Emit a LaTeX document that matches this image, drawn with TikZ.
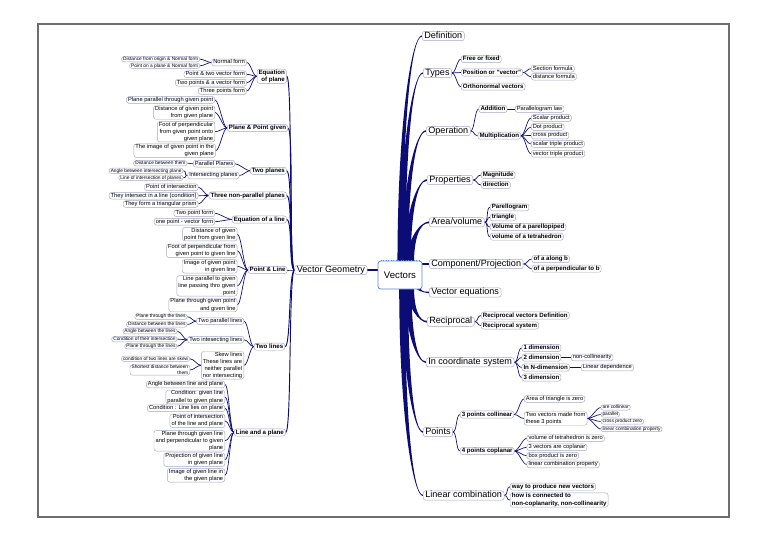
\documentclass[tikz,border=0pt]{standalone}
\usepackage{fontspec}
\setmainfont{Liberation Sans}
\usetikzlibrary{calc}
\definecolor{nv}{RGB}{12,12,118}
\definecolor{bcol}{RGB}{165,165,200}
\definecolor{rootb}{RGB}{90,140,210}
\definecolor{frm}{RGB}{110,110,110}
\pgfdeclarelayer{bg}
\pgfsetlayers{bg,main}
\newcommand\rcon[2]{\draw[cn] (#1.east) .. controls +(4,0) and +(-4,0) .. (#2.west);}
\newcommand\lcon[2]{\draw[cn] (#1.west) .. controls +(-4,0) and +(4,0) .. (#2.east);}
\newcommand\scon[1]{\draw[spn] (vg.west) .. controls +(-6,0) and +(6,0) .. (#1.east);}
\newcommand\taper[4]{\fill[nv] let \p1=(#1), \p2=(#2) in
  ({\x1-#3},\y1) .. controls ({\x1-#3},{\y1+0.6*(\y2-\y1)}) and ({0.5*(\x1+\x2)},\y2) .. (\x2,{\y2+#4})
  -- (\x2,{\y2-#4}) .. controls ({0.5*(\x1+\x2)},\y2) and ({\x1+#3},{\y1+0.6*(\y2-\y1)}) .. ({\x1+#3},\y1) -- cycle;}
\begin{document}
\begin{tikzpicture}[x=0.75pt,y=-0.75pt,
  bx/.style={draw=bcol, line width=0.35pt, rounded corners=1.8pt, fill=white, inner xsep=1.2pt, inner ysep=0.4pt},
  lone/.style={bx, font=\fontsize{6.8}{8}\selectfont, text height=4.9pt, text depth=1.5pt, inner xsep=1.6pt, inner ysep=0.3pt},
  ltwo/.style={bx, font=\fontsize{4.6}{5.6}\selectfont\bfseries, text height=3.4pt, text depth=1.1pt},
  lthree/.style={bx, font=\fontsize{4.3}{5.3}\selectfont, text height=3.2pt, text depth=1pt},
  lfour/.style={bx, font=\fontsize{3.6}{4.6}\selectfont, text height=2.7pt, text depth=0.8pt, inner ysep=0.2pt},
  ml/.style={text height=, text depth=},
  rt/.style={anchor=west, align=left},
  lt/.style={anchor=east, align=right},
  cn/.style={draw=nv, line width=0.5pt},
  spn/.style={draw=nv, line width=0.7pt}]
\useasboundingbox (0,0) rectangle (768,542);
\begin{pgfonlayer}{bg}
\fill[white] (0,0) rectangle (768,542);
\draw[frm, line width=1pt] (38,24) rectangle (729,517);
\end{pgfonlayer}

% root and level 1
\node[draw=rootb, line width=0.6pt, rounded corners=2pt, fill=white, minimum width=33pt, minimum height=21pt, font=\fontsize{7.2}{8}\selectfont] (root) at (400,275) {Vectors};
\draw[rootb, line width=1.1pt, dash pattern=on 0.6pt off 1.3pt] ($(root.north west)+(3,0)$) -- ($(root.north east)+(-3,0)$);
\node[lone, lt] (vg) at (367.3,270) {Vector Geometry};

\node[lone, rt] (def) at (422,36) {Definition};
\node[lone, rt] (types) at (423,73) {Types};
\node[lone, rt] (oper) at (426,131) {Operation};
\node[lone, rt] (props) at (427,180) {Properties};
\node[lone, rt] (area) at (429,222.3) {Area/volume};
\node[lone, rt] (comp) at (429,264) {Component/Projection};
\node[lone, rt] (veq) at (429,292.5) {Vector equations};
\node[lone, rt] (recip) at (427,321.7) {Reciprocal};
\node[lone, rt] (coord) at (426,362.3) {In coordinate system};
\node[lone, rt] (points) at (423,432) {Points};
\node[lone, rt] (lincomb) at (423,495.5) {Linear combination};

% right level 2
\node[ltwo, rt] (free) at (461,59.2) {Free or fixed};
\node[ltwo, rt] (posv) at (461,72.5) {Position or "vector"};
\node[ltwo, rt] (ortho) at (461,86.7) {Orthonormal vectors};
\node[ltwo, rt] (add) at (478.7,109) {Addition};
\node[ltwo, rt] (mult) at (477.7,135.7) {Multiplication};
\node[ltwo, rt] (mag) at (481,175) {Magnitude};
\node[ltwo, rt] (dir) at (481,185) {direction};
\node[ltwo, rt] (parl) at (490,207.3) {Parellogram};
\node[ltwo, rt] (tri) at (490,217.3) {triangle};
\node[ltwo, rt] (volp) at (490,227) {Volume of a parellopiped};
\node[ltwo, rt] (volt) at (490,236.7) {volume of a tetrahedron};
\node[ltwo, rt] (along) at (531.7,259) {of a along b};
\node[ltwo, rt] (perp) at (531.7,268.7) {of a perpendicular to b};
\node[ltwo, rt] (rvd) at (481,315.5) {Reciprocal vectors Definition};
\node[ltwo, rt] (rsys) at (481,325.5) {Reciprocal system};
\node[ltwo, rt] (d1) at (521.7,348) {1 dimension};
\node[ltwo, rt] (d2) at (521.7,357.5) {2 dimension};
\node[ltwo, rt] (dn) at (521.7,367.5) {In N-dimension};
\node[ltwo, rt] (d3) at (521.7,377.5) {3 dimension};
\node[ltwo, rt] (col3) at (460,414.5) {3 points collinear};
\node[ltwo, rt] (cop4) at (460,451) {4 points coplanar};
\node[ltwo, rt] (way) at (510,486.7) {way to produce new vectors};
\node[ltwo, rt, ml] (how) at (510,500) {how is connected to\\non-coplanarity, non-collinearity};

% right level 3
\node[lthree, rt] (sect) at (531,68.7) {Section formula};
\node[lthree, rt] (dist) at (531,76.7) {distance formula};
\node[lthree, rt] (plaw) at (515,109) {Parallelogram law};
\node[lthree, rt] (scal) at (531,118) {Scalar product};
\node[lthree, rt] (dot) at (531,127) {Dot product};
\node[lthree, rt] (cross) at (531,135.5) {cross product};
\node[lthree, rt] (stp) at (531,144) {scalar triple product};
\node[lthree, rt] (vtp) at (531,153.7) {vector triple product};
\node[lthree, rt] (ncol) at (571,357.5) {non-collinearity};
\node[lthree, rt] (ldep) at (581,367.5) {Linear dependence};
\node[lthree, rt] (atz) at (524,399) {Area of triangle is zero};
\node[lthree, rt, ml] (twov) at (524,418.5) {Two vectors made from\\these 3 points};
\node[lthree, rt] (vtz) at (526.7,438.3) {volume of tetrahedron is zero};
\node[lthree, rt] (vcop) at (526.7,447.3) {3 vectors are coplanar};
\node[lthree, rt] (bpz) at (526.7,455.7) {box product is zero};
\node[lthree, rt] (lcp) at (526.7,464.5) {linear combination property};

% right level 4
\node[lfour, rt] (acol) at (600.7,407.5) {are collinear};
\node[lfour, rt] (par) at (600.7,414.5) {parallel};
\node[lfour, rt] (cpz) at (600.7,421.5) {cross product zero};
\node[lfour, rt] (lcp2) at (600.7,429) {linear combination property};

% left level 2
\node[ltwo, lt, ml] (eqp) at (286.7,76.3) {Equation\\of plane};
\node[ltwo, lt] (ppg) at (288,128) {Plane \& Point given};
\node[ltwo, lt] (twop) at (286.7,170.8) {Two planes};
\node[ltwo, lt] (tnp) at (286.7,195.5) {Three non-parallel planes};
\node[ltwo, lt] (eql) at (286.7,219.5) {Equation of a line};
\node[ltwo, lt] (pl) at (287.3,270) {Point \& Line};
\node[ltwo, lt] (twol) at (285,346.7) {Two lines};
\node[ltwo, lt] (lap) at (285.7,432.5) {Line and a plane};

% left level 3
\node[lthree, lt] (nf) at (246.7,62.5) {Normal form};
\node[lthree, lt] (ptv) at (246.7,74.3) {Point \& two vector form};
\node[lthree, lt] (tpv) at (246.7,82.7) {Two points \& a vector form};
\node[lthree, lt] (tpf) at (246.7,91) {Three points form};
\node[lthree, lt] (ppt) at (215,100) {Plane parallel through given point};
\node[lthree, lt, ml] (dgp) at (215,112.5) {Distance of given point\\from given plane};
\node[lthree, lt, ml] (fop) at (215,131.7) {Foot of perpendicular\\from given point onto\\given plane};
\node[lthree, lt, ml] (igp) at (215.7,150.7) {The image of given point in the\\given plane};
\node[lthree, lt] (parp) at (235,163.7) {Parallel Planes};
\node[lthree, lt] (intp) at (239.3,175.5) {Intersecting planes};
\node[lthree, lt] (poi) at (198.3,187.3) {Point of intersection};
\node[lthree, lt] (til) at (198.3,195.7) {They intersect in a line (condition)};
\node[lthree, lt] (tfp) at (198.3,204) {They form a triangular prism};
\node[lthree, lt] (tpt) at (215,213.3) {Two point form};
\node[lthree, lt] (opv) at (215,221.7) {one point - vector form};
\node[lthree, lt, ml] (dgl) at (237.3,234.2) {Distance of given\\point from given line};
\node[lthree, lt, ml] (fpl) at (237.3,250.8) {Foot of perpendicular from\\given point to given line};
\node[lthree, lt, ml] (igl) at (237.3,266.3) {Image of given point\\in given line};
\node[lthree, lt, ml] (lpg) at (237.3,285.8) {Line parallel to given\\line passing thro given\\point};
\node[lthree, lt, ml] (ptgl) at (237.3,305) {Plane through given point\\and given line};
\node[lthree, lt] (tpl) at (244,321.2) {Two parallel lines};
\node[lthree, lt] (til2) at (244,339.7) {Two intesecting lines};
\node[lthree, lt, ml] (skew) at (244,365.3) {Skew lines\\These lines are\\neither parallel\\nor intersecting};
\node[lthree, lt] (abl) at (225,384.5) {Angle between line and plane};
\node[lthree, lt, ml] (cgl) at (225,397) {Condition: given line\\parallel to given plane};
\node[lthree, lt] (cll) at (225,408.3) {Condition : Line lies on plane};
\node[lthree, lt, ml] (pil) at (225,420.8) {Point of intersection\\of the line and plane};
\node[lthree, lt, ml] (ptl) at (225,440.8) {Plane through given line\\and perpendicular to given\\plane};
\node[lthree, lt, ml] (pjl) at (225,459.7) {Projection of given line\\in given plane};
\node[lthree, lt, ml] (igl2) at (225,475.3) {Image of given line in\\the given plane};

% left level 4
\node[lfour, lt] (dfo) at (200,59.2) {Distance from origin \& Normal form};
\node[lfour, lt] (pop) at (200,65.8) {Point on a plane \& Normal form};
\node[lfour, lt] (dbt) at (187.3,163.3) {Distance between them};
\node[lfour, lt] (abi) at (183.3,170.8) {Angle between intersecting plane};
\node[lfour, lt] (loi) at (183.3,177.8) {Line of intersection of planes};
\node[lfour, lt] (ptl1) at (187.3,316.7) {Plane through the lines};
\node[lfour, lt] (dbl) at (187.3,324.5) {Distance between the lines};
\node[lfour, lt] (abtl) at (177.3,331.2) {Angle between the lines};
\node[lfour, lt] (coi) at (177.3,339.2) {Condition of their intersection};
\node[lfour, lt] (ptl2) at (177.3,346.3) {Plane through the lines};
\node[lfour, lt] (ctl) at (190,358.8) {condition of two lines are skew};
\node[lfour, lt, ml] (sdb) at (190,370) {Shortest distance between\\them};

% anchor coordinates on the root
\coordinate (u1) at ($(root.north)+(0,3)$);
\coordinate (u2) at ($(root.north)+(2.5,3)$);
\coordinate (u3) at ($(root.north)+(5,3)$);
\coordinate (u4) at ($(root.north)+(7.5,3)$);
\coordinate (u5) at ($(root.north)+(10.5,3)$);
\coordinate (w1) at ($(root.south)+(10.5,-3)$);
\coordinate (w2) at ($(root.south)+(8,-3)$);
\coordinate (w3) at ($(root.south)+(5,-3)$);
\coordinate (w4) at ($(root.south)+(2,-3)$);
\coordinate (w5) at ($(root.south east)+(-5,-3)$);
\coordinate (ce) at ($(root.east)+(-2,-11)$);
\coordinate (cw) at ($(root.west)+(0,-5)$);

\begin{pgfonlayer}{bg}
\taper{u1}{def.west}{1.9pt}{0.5pt}
\taper{u2}{types.west}{2.1pt}{0.55pt}
\taper{u3}{oper.west}{2.3pt}{0.6pt}
\taper{u4}{props.west}{2.4pt}{0.6pt}
\taper{u5}{area.west}{2.6pt}{0.7pt}
\taper{w1}{recip.west}{2.6pt}{-0.7pt}
\taper{w2}{coord.west}{2.5pt}{-0.6pt}
\taper{w3}{points.west}{2.3pt}{-0.6pt}
\taper{w4}{lincomb.west}{2.1pt}{-0.5pt}
\taper{w5}{veq.west}{2.0pt}{-0.6pt}
\draw[nv, line width=1.3pt] (ce) -- (comp.west);
\draw[nv, line width=1.1pt] (cw) -- (vg.east);
\foreach \c in {eqp,ppg,twop,tnp,eql,pl,twol,lap} {\scon{\c}}
\foreach \p/\c in {types/free,types/posv,types/ortho,posv/sect,posv/dist,oper/add,oper/mult,add/plaw,mult/scal,mult/dot,mult/cross,mult/stp,mult/vtp,props/mag,props/dir,area/parl,area/tri,area/volp,area/volt,comp/along,comp/perp,recip/rvd,recip/rsys,coord/d1,coord/d2,coord/dn,coord/d3,d2/ncol,dn/ldep,points/col3,points/cop4,col3/atz,col3/twov,twov/acol,twov/par,twov/cpz,twov/lcp2,cop4/vtz,cop4/vcop,cop4/bpz,cop4/lcp,lincomb/way,lincomb/how} {\rcon{\p}{\c}}
\foreach \p/\c in {eqp/nf,eqp/ptv,eqp/tpv,eqp/tpf,nf/dfo,nf/pop,ppg/ppt,ppg/dgp,ppg/fop,ppg/igp,twop/parp,twop/intp,parp/dbt,intp/abi,intp/loi,tnp/poi,tnp/til,tnp/tfp,eql/tpt,eql/opv,pl/dgl,pl/fpl,pl/igl,pl/lpg,pl/ptgl,twol/tpl,twol/til2,twol/skew,tpl/ptl1,tpl/dbl,til2/abtl,til2/coi,til2/ptl2,skew/ctl,skew/sdb,lap/abl,lap/cgl,lap/cll,lap/pil,lap/ptl,lap/pjl,lap/igl2} {\lcon{\p}{\c}}
\end{pgfonlayer}
\end{tikzpicture}
\end{document}
